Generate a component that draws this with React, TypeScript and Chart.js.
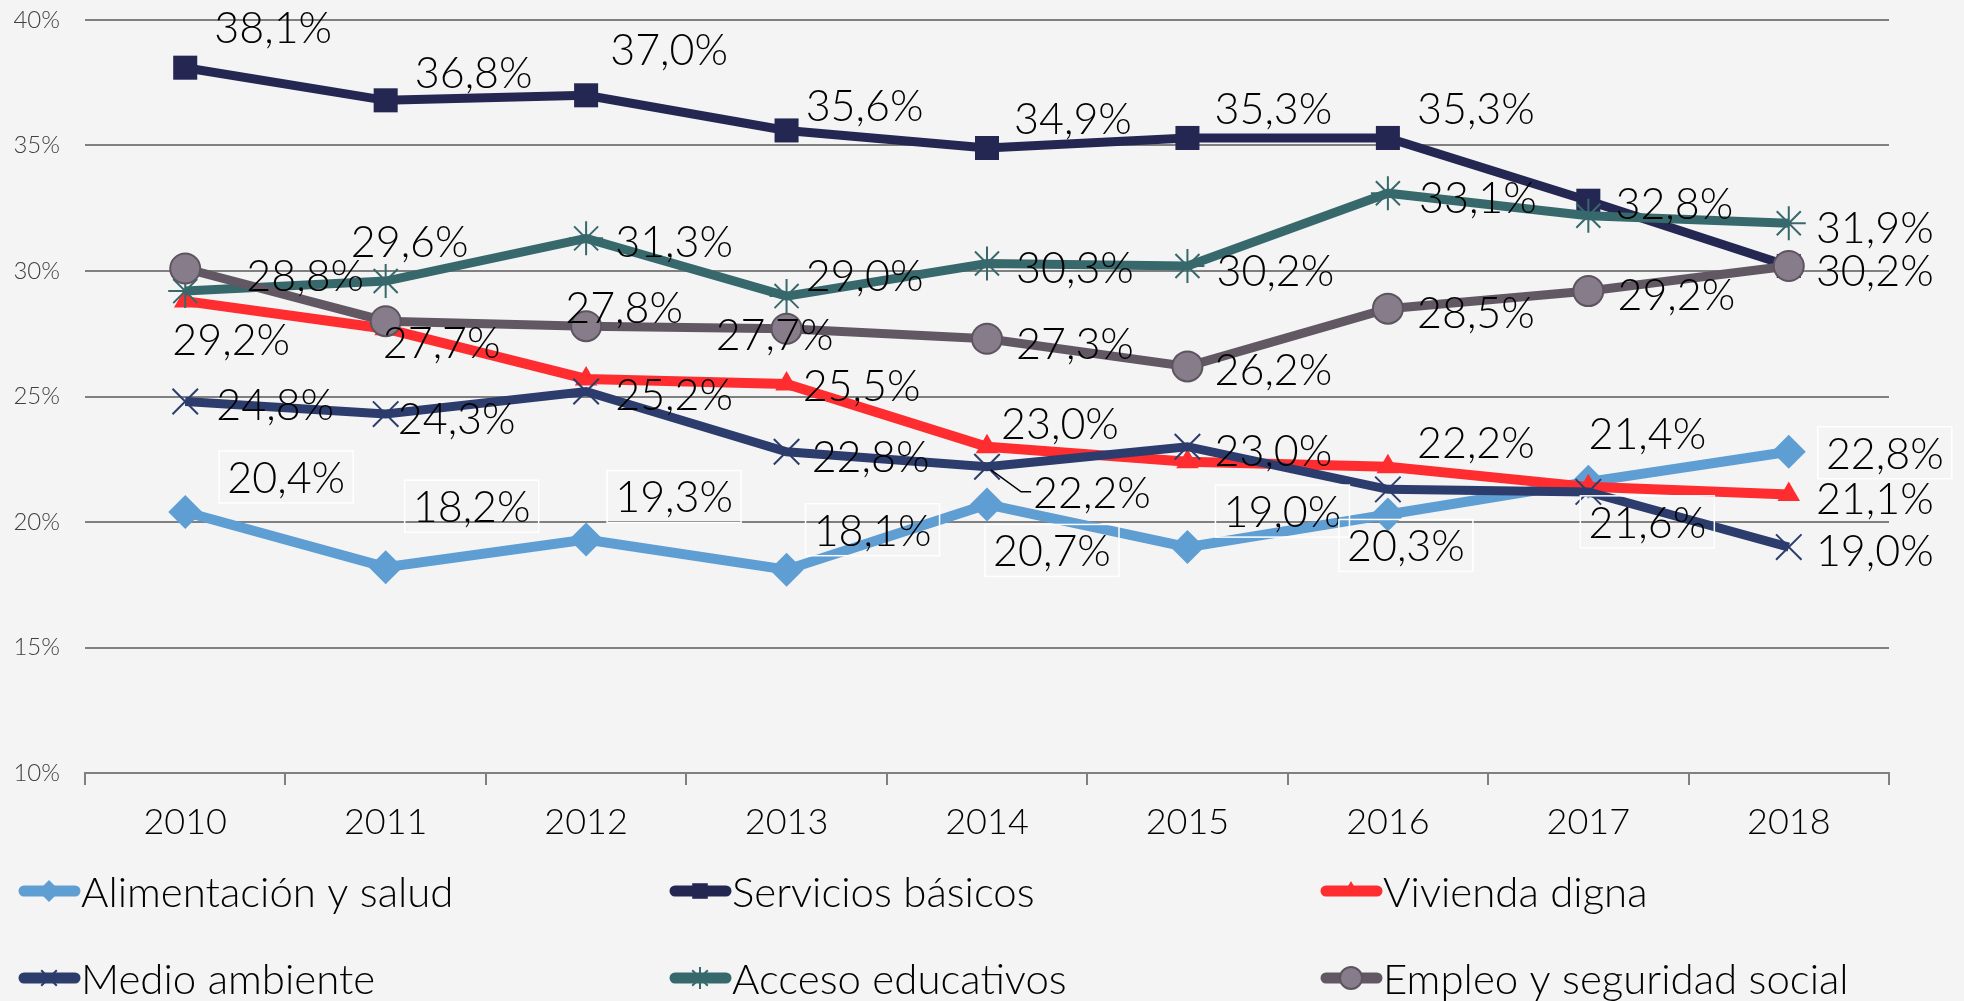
import React, { useEffect, useRef } from 'react';
import { Chart, registerables } from 'chart.js';
import { drawPoint } from 'chart.js/helpers';

Chart.register(...registerables);

// ---------- data ----------
const years = ['2010', '2011', '2012', '2013', '2014', '2015', '2016', '2017', '2018'];
const alimentacion = [20.4, 18.2, 19.3, 18.1, 20.7, 19.0, 20.3, 21.6, 22.8];
const servicios = [38.1, 36.8, 37.0, 35.6, 34.9, 35.3, 35.3, 32.8, 30.2];
const vivienda = [28.8, 27.7, 25.7, 25.5, 23.0, 22.4, 22.2, 21.4, 21.1];
const medio = [24.8, 24.3, 25.2, 22.8, 22.2, 23.0, 21.3, 21.2, 19.0];
const acceso = [29.2, 29.6, 31.3, 29.0, 30.3, 30.2, 33.1, 32.2, 31.9];
const empleo = [30.1, 28.0, 27.8, 27.7, 27.3, 26.2, 28.5, 29.2, 30.2];
const seriesNames = [
  'Alimentación y salud',
  'Servicios básicos',
  'Vivienda digna',
  'Medio ambiente',
  'Acceso educativos',
  'Empleo y seguridad social',
];
const yMin = 10;
const yMax = 40;
const yStep = 5;

// ---------- label placement (offset of label centre from its point, px; null = no label) ----------
type Off = [number, number] | null;
const offAlimentacion: Off[] = [[101, -35], [86, -61], [88, -43], [86, -40], [65, 46], [95, -36], [18, 31], [59, 40], [96, 1]];
const offServicios: Off[] = [[88, -41], [88, -28], [83, -46], [78, -25], [86, -30], [86, -30], [88, -30], [86, 2], null];
const offVivienda: Off[] = [[120, -26], [56, 13], null, [75, 1], [73, -24], null, [88, -25], [59, -54], [86, 4]];
const offMedio: Off[] = [[90, 3], [71, 4], [88, 3], [84, 4], [105, 25], [86, 3], null, null, [86, 3]];
const offAcceso: Off[] = [[46, 48], [24, -40], [88, 3], [78, -21], [88, 4], [88, 4], [90, 4], null, [86, 4]];
const offEmpleo: Off[] = [null, null, [38, -19], [-12, 5], [88, 4], [86, 3], [88, 3], [88, 3], [86, 4]];

const FONT = 'Lato, "Open Sans", sans-serif';
const BG = '#f4f4f4';

type Style = {
  color: string;
  fill: string;
  border: string;
  pointStyle: any;
  radius: number;
  borderWidth: number;
  lineWidth: number;
  legendRadius: number;
};

const styles: Style[] = [
  { color: '#5f9ed3', fill: '#5f9ed3', border: '#5f9ed3', pointStyle: 'rectRot', radius: 17, borderWidth: 0, lineWidth: 10, legendRadius: 11 },
  { color: '#252753', fill: '#252753', border: '#252753', pointStyle: 'rect', radius: 17, borderWidth: 0, lineWidth: 9, legendRadius: 11 },
  { color: '#ff2d2f', fill: '#ff2d2f', border: '#ff2d2f', pointStyle: 'triangle', radius: 13, borderWidth: 0, lineWidth: 10, legendRadius: 10 },
  { color: '#2c3c6c', fill: '#2c3c6c', border: '#2c3c6c', pointStyle: 'crossRot', radius: 18, borderWidth: 2, lineWidth: 9, legendRadius: 11 },
  { color: '#37696c', fill: '#37696c', border: '#37696c', pointStyle: 'star', radius: 17, borderWidth: 2, lineWidth: 9, legendRadius: 11 },
  { color: '#625864', fill: '#877c89', border: '#5e5460', pointStyle: 'circle', radius: 15, borderWidth: 2, lineWidth: 9, legendRadius: 11 },
];

const seriesData = [alimentacion, servicios, vivienda, medio, acceso, empleo];
const seriesOffsets = [offAlimentacion, offServicios, offVivienda, offMedio, offAcceso, offEmpleo];
const boxedSeries = [true, false, false, false, false, false];
const leaderLines: [number, number][] = [[3, 4]]; // series index, point index

const fmt = (v: number) => v.toFixed(1).replace('.', ',') + '%';

const bgPlugin = {
  id: 'bg',
  beforeDraw(chart: any) {
    const ctx = chart.ctx;
    ctx.save();
    ctx.fillStyle = BG;
    ctx.fillRect(0, 0, chart.width, chart.height);
    ctx.restore();
  },
};

const labelPlugin = {
  id: 'pointLabels',
  afterDatasetsDraw(chart: any) {
    const ctx = chart.ctx;
    ctx.save();
    ctx.font = `300 43px ${FONT}`;
    ctx.textAlign = 'center';
    ctx.textBaseline = 'middle';
    seriesData.forEach((data, si) => {
      const meta = chart.getDatasetMeta(si);
      const offs = seriesOffsets[si];
      meta.data.forEach((pt: any, i: number) => {
        const o = offs[i];
        if (!o) return;
        const x = pt.x + o[0];
        const y = pt.y + o[1];
        const text = fmt(data[i]);
        if (boxedSeries[si]) {
          ctx.strokeStyle = '#ffffff';
          ctx.lineWidth = 1.5;
          ctx.strokeRect(x - 67, y - 26, 134, 52);
        }
        if (leaderLines.some(([s, p]) => s === si && p === i)) {
          const w = ctx.measureText(text).width;
          ctx.strokeStyle = '#000000';
          ctx.lineWidth = 1.5;
          ctx.beginPath();
          ctx.moveTo(pt.x + 4, pt.y + 3);
          ctx.lineTo(x - w / 2 - 12, y);
          ctx.lineTo(x - w / 2 - 2, y);
          ctx.stroke();
        }
        ctx.fillStyle = '#000000';
        ctx.fillText(text, x, y + 2);
      });
    });
    ctx.restore();
  },
};

const legendPlugin = {
  id: 'customLegend',
  afterDraw(chart: any) {
    const ctx = chart.ctx;
    const cols = [19, 670, 1321];
    const rows = [891, 978];
    ctx.save();
    seriesNames.forEach((name, i) => {
      const st = styles[i];
      const x = cols[i % 3];
      const y = rows[Math.floor(i / 3)];
      ctx.strokeStyle = st.color;
      ctx.lineWidth = 11;
      ctx.lineCap = 'round';
      ctx.beginPath();
      ctx.moveTo(x + 5, y);
      ctx.lineTo(x + 56, y);
      ctx.stroke();
      ctx.lineCap = 'butt';
      ctx.fillStyle = st.fill;
      ctx.strokeStyle = st.border;
      ctx.lineWidth = st.borderWidth;
      drawPoint(ctx, { pointStyle: st.pointStyle, radius: st.legendRadius, rotation: 0, borderWidth: st.borderWidth } as any, x + 30, y);
      ctx.fillStyle = '#000000';
      ctx.font = `300 42px ${FONT}`;
      ctx.textAlign = 'left';
      ctx.textBaseline = 'middle';
      ctx.fillText(name, x + 62, y + 2);
    });
    ctx.restore();
  },
};

export default function App() {
  const ref = useRef<HTMLCanvasElement | null>(null);

  useEffect(() => {
    document.body.style.margin = '0';
    document.body.style.background = BG;
    const canvas = ref.current;
    if (!canvas) return;
    const datasets = seriesData.map((data, i) => {
      const st = styles[i];
      return {
        label: seriesNames[i],
        data,
        order: -i,
        borderColor: st.color,
        backgroundColor: st.fill,
        borderWidth: st.lineWidth,
        tension: 0,
        pointStyle: st.pointStyle,
        pointRadius: st.radius,
        pointHoverRadius: st.radius,
        pointBackgroundColor: st.fill,
        pointBorderColor: st.border,
        pointBorderWidth: st.borderWidth,
        fill: false,
      };
    });
    const chart = new Chart(canvas, {
      type: 'line',
      data: { labels: years, datasets },
      options: {
        responsive: false,
        animation: false,
        devicePixelRatio: 1,
        layout: { padding: { top: 20, right: 75, left: 0, bottom: 0 } },
        plugins: {
          legend: { display: false },
          tooltip: { enabled: false },
        },
        scales: {
          x: {
            offset: true,
            grid: {
              display: true,
              offset: true,
              drawOnChartArea: false,
              drawTicks: true,
              tickLength: 12,
              color: '#808080',
              lineWidth: 2,
            },
            border: { display: true, color: '#808080', width: 2 },
            ticks: {
              color: '#000000',
              padding: 16,
              font: { family: FONT, size: 36, weight: '300' as any },
              maxRotation: 0,
              autoSkip: false,
            },
            afterFit(scale: any) {
              scale.height = 228;
              scale.paddingLeft = 0;
              scale.paddingRight = 0;
            },
          },
          y: {
            min: yMin,
            max: yMax,
            grid: {
              color: '#808080',
              lineWidth: 2,
              drawTicks: false,
            },
            border: { display: false },
            ticks: {
              stepSize: yStep,
              color: '#404040',
              padding: 25,
              font: { family: FONT, size: 24, weight: '300' as any },
              callback: (v: any) => `${v}%`,
            },
            afterFit(scale: any) {
              scale.width = 85;
              scale.paddingTop = 0;
              scale.paddingBottom = 0;
            },
          },
        },
      },
      plugins: [bgPlugin, labelPlugin, legendPlugin],
    });
    return () => chart.destroy();
  }, []);

  return (
    <div style={{ position: 'absolute', left: 0, top: 0, width: 1964, height: 1001, background: BG }}>
      <canvas ref={ref} width={1964} height={1001} style={{ display: 'block', width: 1964, height: 1001 }} />
    </div>
  );
}
